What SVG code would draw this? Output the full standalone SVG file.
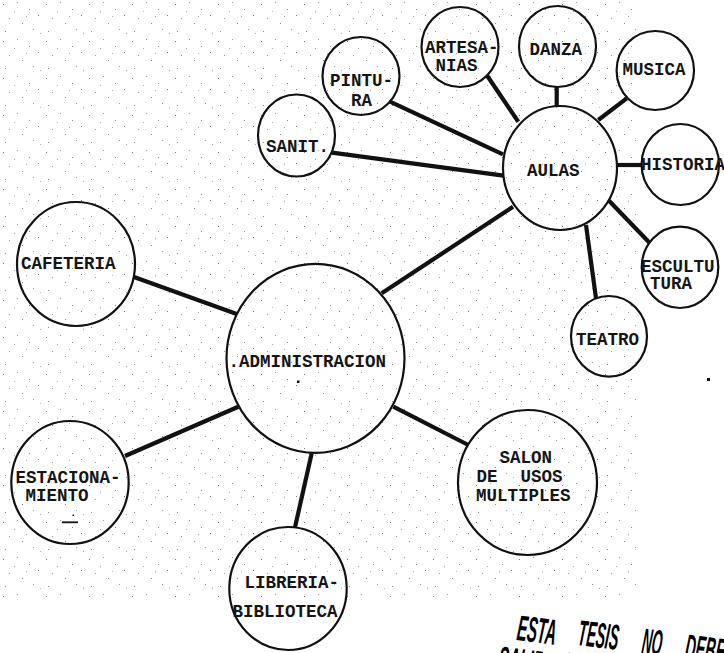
<svg xmlns="http://www.w3.org/2000/svg" width="724" height="653" viewBox="0 0 724 653">
<style>
.n{fill:none;stroke:#111;stroke-width:2.2}
.c{stroke:#111;stroke-width:4.2;stroke-linecap:butt;fill:none}
.t{font-family:"Liberation Mono","Courier New",monospace;font-weight:bold;font-size:17.5px;fill:#151515}
.s{font-family:"Liberation Sans Narrow","Liberation Sans",Arial,sans-serif;font-weight:bold;font-style:italic;font-size:36px;fill:#000}
</style>
<defs>
<pattern id="spk" width="43" height="37" patternUnits="userSpaceOnUse">
<rect x="3" y="4" width="1" height="1" fill="#777"/>
<rect x="17" y="2" width="1" height="1" fill="#999"/>
<rect x="29" y="9" width="1" height="1" fill="#888"/>
<rect x="38" y="15" width="1" height="1" fill="#777"/>
<rect x="9" y="18" width="1" height="1" fill="#999"/>
<rect x="22" y="23" width="1" height="1" fill="#888"/>
<rect x="33" y="29" width="1" height="1" fill="#999"/>
<rect x="5" y="31" width="1" height="1" fill="#888"/>
<rect x="14" y="11" width="1" height="1" fill="#aaa"/>
<rect x="40" y="33" width="1" height="1" fill="#aaa"/>
<rect x="26" y="16" width="1" height="1" fill="#aaa"/>
</pattern>
</defs>
<rect width="724" height="653" fill="#fff"/>
<rect width="640" height="600" fill="url(#spk)"/>
<g id="connectors">
<line class="c" x1="332" y1="152.7" x2="503.5" y2="175.7"/>
<line class="c" x1="390" y1="101.7" x2="503" y2="154.3"/>
<line class="c" x1="486.7" y1="75" x2="518.3" y2="121.7"/>
<line class="c" x1="556.7" y1="87" x2="556.7" y2="106"/>
<line class="c" x1="626.7" y1="98.3" x2="598.3" y2="120"/>
<line class="c" x1="616.5" y1="165" x2="642" y2="165"/>
<line class="c" x1="608.3" y1="200" x2="650" y2="243.3"/>
<line class="c" x1="586" y1="225" x2="596" y2="298.3"/>
<line class="c" x1="381.7" y1="293.3" x2="513" y2="206.8"/>
<line class="c" x1="133.3" y1="276.7" x2="236.7" y2="314"/>
<line class="c" x1="125" y1="456" x2="238.3" y2="406.7"/>
<line class="c" x1="311.7" y1="453.3" x2="295" y2="527.3"/>
<line class="c" x1="393.3" y1="406.7" x2="468.3" y2="445"/>
</g>
<g id="aulas"><ellipse class="n" cx="560" cy="168" rx="57" ry="62"/><text class="t" x="527" y="175.7">AULAS</text></g>
<g id="sanit"><ellipse class="n" cx="296.5" cy="135.5" rx="38.5" ry="41"/><text class="t" x="266" y="151.7">SANIT.</text></g>
<g id="pintura"><ellipse class="n" cx="361" cy="76" rx="38.5" ry="39"/><text class="t" x="330" y="86">PINTU-</text><text class="t" x="351" y="106">RA</text></g>
<g id="artesanias"><ellipse class="n" cx="460" cy="47" rx="38.5" ry="40"/><text class="t" x="425" y="52.7">ARTESA-</text><text class="t" x="435.5" y="70.7">NIAS</text></g>
<g id="danza"><ellipse class="n" cx="557.5" cy="46.5" rx="38.5" ry="40.5"/><text class="t" x="529.5" y="55">DANZA</text></g>
<g id="musica"><ellipse class="n" cx="655.3" cy="70.5" rx="38.7" ry="39.5"/><text class="t" x="622.5" y="75">MUSICA</text></g>
<g id="historia"><ellipse class="n" cx="680.3" cy="164.5" rx="38.7" ry="40.5"/><text class="t" x="641" y="170">HISTORIA</text></g>
<g id="escultura"><ellipse class="n" cx="680" cy="267.3" rx="38.3" ry="40.7"/><text class="t" x="641" y="271.7">ESCULTU</text><text class="t" x="650" y="289">TURA</text></g>
<g id="teatro"><ellipse class="n" cx="609" cy="336.3" rx="38" ry="40.3"/><text class="t" x="576" y="345">TEATRO</text></g>
<g id="cafeteria"><ellipse class="n" cx="76" cy="264" rx="59" ry="62"/><text class="t" x="21" y="269.3">CAFETERIA</text></g>
<g id="administracion"><ellipse class="n" cx="315.5" cy="358.3" rx="89" ry="94.5"/><text class="t" x="228.5" y="367.3">.ADMINISTRACION</text><rect x="297" y="380.5" width="2.5" height="2.5" fill="#111"/></g>
<g id="estacionamiento"><ellipse class="n" cx="70" cy="482.5" rx="58.7" ry="61.5"/><text class="t" x="15.5" y="482.7">ESTACIONA-</text><text class="t" x="25.5" y="501">MIENTO</text><line x1="62" y1="522.3" x2="78" y2="522.3" stroke="#111" stroke-width="1.8"/><rect x="72.5" y="514.5" width="1.5" height="1.5" fill="#111"/></g>
<g id="libreria"><ellipse class="n" cx="288" cy="588.5" rx="58.7" ry="61.5"/><text class="t" x="244.5" y="588.3">LIBRERIA-</text><text class="t" x="232.5" y="617.3">BIBLIOTECA</text></g>
<g id="salon"><ellipse class="n" cx="527.5" cy="482.5" rx="69.5" ry="72.5"/><text class="t" x="499.5" y="463.3">SALON</text><text class="t" x="476.5" y="481.7">DE</text><text class="t" x="520.5" y="481.7">USOS</text><text class="t" x="476" y="500.7">MULTIPLES</text></g>
<rect x="707" y="378" width="3" height="3" fill="#111"/>
<g id="stamp">
<text class="s" transform="translate(516,640) rotate(7) scale(0.42,1)">ESTA</text>
<text class="s" transform="translate(577,645) rotate(7) scale(0.39,1)">TESIS</text>
<text class="s" transform="translate(641,653) rotate(7) scale(0.37,1)">NO</text>
<text class="s" transform="translate(684,659) rotate(7) scale(0.4,1)">DEBE</text>
<text class="s" transform="translate(497,671) rotate(7) scale(0.42,1)">SALIR</text>
<text class="s" transform="translate(563,677) rotate(7) scale(0.42,1)">DE</text>
</g>
</svg>
